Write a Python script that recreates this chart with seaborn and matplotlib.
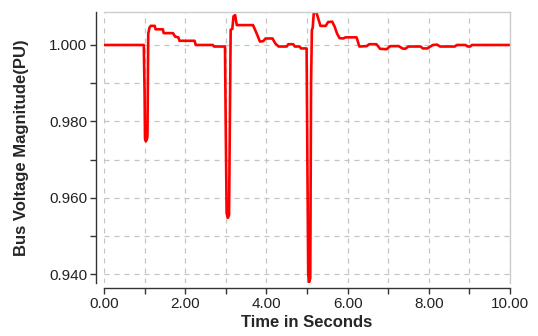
import numpy as np
import pandas as pd
import seaborn as sns
import matplotlib.pyplot as plt
from matplotlib.ticker import MultipleLocator, FormatStrFormatter

# time (s) and bus voltage (pu)
time_s = [0.00, 0.98, 1.00, 1.01, 1.03, 1.05, 1.07, 1.09, 1.12, 1.15, 1.25, 1.27, 1.45, 1.47,
          1.70, 1.75, 1.83, 1.86, 2.23, 2.26, 2.68, 2.71, 2.98,
          3.00, 3.02, 3.05, 3.08, 3.10, 3.12, 3.16, 3.19, 3.23, 3.27, 3.67, 3.72, 3.78, 3.84,
          3.92, 3.98, 4.15, 4.22, 4.30, 4.50, 4.54, 4.66, 4.70, 4.82, 4.85, 4.99,
          5.01, 5.03, 5.05, 5.08, 5.10, 5.12, 5.14, 5.17, 5.22, 5.26, 5.33, 5.46, 5.52, 5.62,
          5.68, 5.74, 5.80, 5.89, 5.95, 6.22, 6.29, 6.47, 6.53, 6.71, 6.80, 6.96, 7.05, 7.26,
          7.35, 7.42, 7.50, 7.80, 7.85, 7.96, 8.10, 8.20, 8.28, 8.64, 8.69, 8.90, 8.96, 9.02,
          9.06, 10.00]
voltage_pu = [1.0000, 1.0000, 0.9875, 0.9755, 0.9748, 0.9752, 0.9760, 1.0030, 1.0045, 1.0050,
              1.0050, 1.0041, 1.0041, 1.0031, 1.0031, 1.0022, 1.0020, 1.0011, 1.0011, 1.0000,
              1.0000, 0.9996, 0.9996,
              0.9770, 0.9560, 0.9548, 0.9555, 0.9800, 1.0040, 1.0042, 1.0075, 1.0078, 1.0052,
              1.0052, 1.0040, 1.0025, 1.0009, 1.0010, 1.0017, 1.0017, 1.0004, 0.9996, 0.9996,
              1.0002, 1.0002, 0.9996, 0.9996, 0.9991, 0.9991,
              0.9686, 0.9400, 0.9380, 0.9390, 0.9900, 1.0039, 1.0045, 1.0088, 1.0088, 1.0075,
              1.0050, 1.0050, 1.0060, 1.0061, 1.0048, 1.0030, 1.0018, 1.0017, 1.0020, 1.0020,
              0.9996, 0.9997, 1.0002, 1.0002, 0.9990, 0.9989, 0.9997, 0.9997, 0.9991, 0.9990,
              0.9996, 0.9996, 0.9991, 0.9991, 1.0000, 1.0001, 0.9996, 0.9996, 1.0000, 1.0000,
              0.9996, 0.9996, 1.0000, 1.0000]

df = pd.DataFrame({"t": time_s, "v": voltage_pu})

sns.set_theme(style="white")
plt.rcParams['font.family'] = ['Liberation Sans', 'DejaVu Sans']

fig = plt.figure(figsize=(5.38, 3.36), dpi=100)
ax = fig.add_axes([0.1933, 0.158, 0.7547, 0.806])

sns.lineplot(data=df, x="t", y="v", color="#ff0000", linewidth=1.9,
             estimator=None, sort=False, ax=ax)

ax.set_xlim(0, 10)
ax.set_ylim(0.9378, 1.0086)

ax.xaxis.set_major_locator(MultipleLocator(2))
ax.xaxis.set_minor_locator(MultipleLocator(1))
ax.yaxis.set_major_locator(MultipleLocator(0.02))
ax.yaxis.set_minor_locator(MultipleLocator(0.01))
ax.xaxis.set_major_formatter(FormatStrFormatter('%.2f'))
ax.yaxis.set_major_formatter(FormatStrFormatter('%.3f'))

ax.grid(True, which='both', color='#c4c4c4', linestyle=(0, (4, 4)), linewidth=0.9)
ax.set_axisbelow(True)

for side in ['top', 'right']:
    ax.spines[side].set_color('#cccccc')
    ax.spines[side].set_linewidth(1.0)
ax.spines['left'].set_position(('outward', 6))
ax.spines['bottom'].set_position(('outward', 4))
for side in ['left', 'bottom']:
    ax.spines[side].set_color('#333333')
    ax.spines[side].set_linewidth(1.0)

ax.tick_params(which='both', direction='out', length=4, width=1, color='#333333',
               labelsize=11, labelcolor='#222222', bottom=True, left=True, pad=2)

ax.set_xlabel("Time in Seconds", fontsize=12, fontweight='bold', labelpad=3)
ax.set_ylabel("Bus Voltage Magnitude(PU)", fontsize=12, fontweight='bold')
ax.yaxis.set_label_coords(-0.185, 0.5)

fig.savefig("out.png", dpi=100)
